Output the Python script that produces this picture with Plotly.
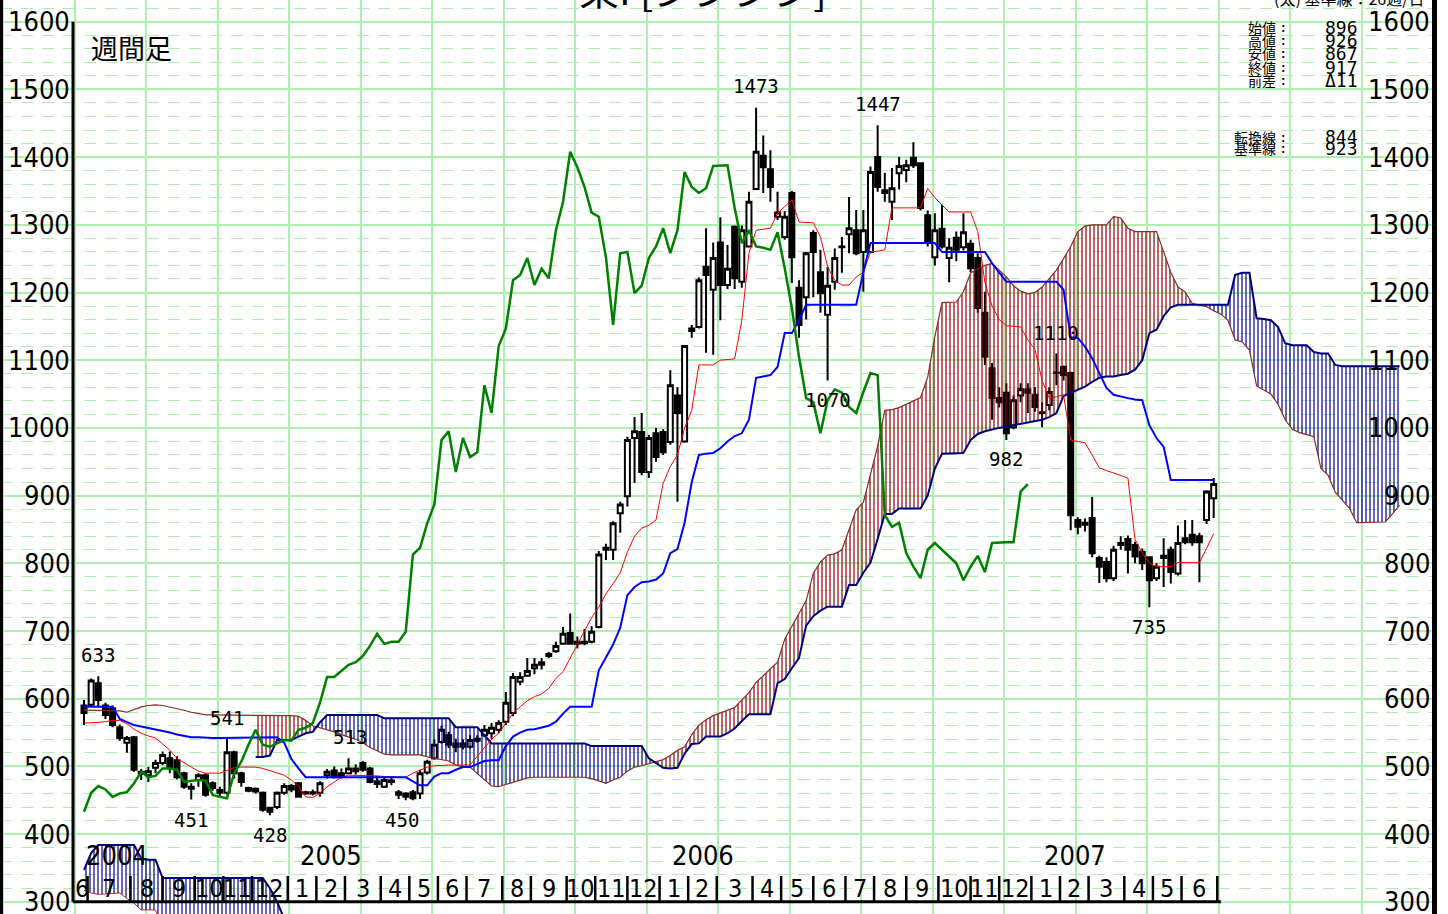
import plotly.graph_objects as go

# ---------------- data ----------------
weeks = list(range(159))
open_ = [590,591,623,590,586,558,535,543,492,487,498,505,512,509,490,470,480,487,475,461,
         461,521,490,468,467,461,439,440,461,471,475,462,460,461,487,494,490,490,493,505,
         497,474,470,477,462,460,462,460,491,512,536,546,534,529,529,541,546,549,554,566,
         579,625,634,645,650,666,670,681,697,681,682,684,706,820,820,874,899,985,994,935,
         992,994,979,1048,980,1143,1149,1238,1204,1274,1211,1297,1216,1268,1353,1402,1382,1312,1282,1347,
         1207,1193,1288,1230,1167,1216,1267,1286,1292,1260,1260,1400,1351,1334,1376,1381,1399,1391,1314,1252,
         1294,1251,1281,1267,1272,1251,1170,1088,1044,1052,1001,1048,1057,1049,1023,1034,1082,1090,1081,864,
         857,867,808,802,778,827,836,827,817,809,778,808,820,785,837,842,840,864,896]
high = [598,630,633,594,590,562,545,545,496,499,510,522,522,515,492,475,490,490,478,470,
        541,523,492,470,469,463,440,463,475,474,477,464,466,478,496,500,497,512,503,508,
        499,486,486,486,465,462,465,495,510,540,560,551,541,540,546,546,561,564,568,610,
        638,639,660,660,660,669,684,706,726,692,703,707,818,829,862,891,987,1016,1022,990,
        1000,998,1085,1060,1122,1152,1222,1295,1274,1311,1270,1299,1299,1349,1473,1432,1410,1349,1320,1350,
        1218,1260,1292,1263,1238,1265,1282,1341,1322,1322,1386,1447,1377,1384,1400,1396,1422,1392,1321,1317,
        1330,1280,1290,1317,1278,1258,1201,1096,1060,1066,1048,1066,1066,1060,1038,1060,1110,1092,1083,868,
        866,898,811,809,826,840,841,832,822,810,800,837,825,856,864,864,845,908,926]
low = [561,588,588,570,558,538,520,492,480,477,490,502,490,481,467,451,470,455,464,455,
       458,482,470,462,460,433,428,437,458,462,455,458,457,455,482,482,482,489,488,492,
       475,468,468,472,452,450,450,452,488,510,534,527,521,525,526,535,543,541,549,561,
       574,620,633,636,643,660,668,680,680,674,679,682,704,805,805,845,884,919,930,926,
       950,960,975,891,978,1133,1147,1111,1108,1159,1205,1205,1207,1268,1353,1347,1334,1307,1278,1214,
       1133,1160,1193,1170,1070,1204,1229,1258,1255,1201,1258,1349,1334,1307,1352,1363,1384,1321,1268,1240,
       1265,1215,1246,1262,1230,1170,1093,1012,1030,982,998,1038,1022,1024,1001,1026,1063,1070,849,843,
       847,809,771,772,774,820,785,800,790,735,774,765,770,782,828,826,772,858,867]
close = [579,627,598,576,561,542,542,495,489,493,505,517,499,484,470,467,487,458,468,465,
         521,490,477,464,463,436,433,461,471,466,455,460,462,475,492,484,486,497,497,495,
         477,478,480,479,458,455,453,490,507,532,554,532,529,534,539,538,554,557,564,594,
         632,632,641,650,654,663,678,696,681,684,684,699,813,823,859,887,982,995,935,985,
         957,964,1063,1022,1121,1147,1218,1226,1251,1211,1235,1221,1292,1334,1408,1385,1356,1318,1312,1252,
         1152,1258,1260,1199,1210,1251,1268,1295,1258,1292,1378,1356,1347,1354,1387,1388,1388,1325,1273,1292,
         1268,1266,1263,1289,1236,1177,1105,1044,1038,992,1041,1057,1052,1031,1022,1053,1081,1078,871,854,
         860,815,795,778,820,830,820,810,800,775,795,811,787,830,831,831,831,906,917]

tenkan = [564,564,565,566,568,568,563,555,549,545,542,533,524,512,505,499,493,490,490,490,
          494,498,499,499,499,497,494,490,487,480,470,455,454,460,470,477,484,487,487,487,
          487,486,485,485,484,484,490,495,499,501,502,502,502,502,502,515,527,540,549,565,
          579,588,597,603,607,615,630,640,660,680,700,720,735,755,770,786,817,840,852,856,
          864,918,943,960,1000,1026,1093,1093,1093,1100,1101,1102,1159,1258,1292,1293,1295,1317,1327,1337,
          1304,1304,1303,1282,1238,1218,1211,1211,1223,1230,1260,1261,1263,1325,1325,1325,1325,1325,1354,1340,
          1329,1319,1319,1319,1319,1290,1215,1180,1160,1151,1150,1149,1130,1116,1070,1044,1046,1049,982,980,
          978,960,941,937,933,929,926,835,815,800,795,795,795,801,801,801,801,822,844]
kijun = [588,588,588,588,588,570,566,561,559,557,555,552,550,547,545,543,543,542,542,542,
         542,542,542,542,542,543,543,543,535,511,497,484,484,484,484,484,484,484,484,484,
         484,484,484,484,484,484,478,472,472,485,490,490,495,499,499,504,508,509,509,530,
         544,550,554,555,557,560,566,578,588,588,588,588,642,660,680,705,753,765,772,773,
         776,785,815,821,860,920,960,962,963,970,980,988,992,1012,1074,1076,1078,1090,1140,1140,
         1159,1182,1182,1182,1182,1182,1182,1182,1182,1230,1273,1273,1273,1273,1273,1273,1273,1273,1273,1273,
         1260,1260,1260,1260,1260,1260,1260,1243,1230,1216,1216,1216,1216,1216,1216,1216,1216,1204,1134,1133,
         1120,1103,1080,1059,1049,1046,1044,1042,1041,1004,985,972,923,923,923,923,923,923,923]

# leading span 1, weeks 0..184
span_a = [583,583,583,583,583,582,580,584,588,590,591,590,588,586,583,580,578,576,576,576,
          576,576,576,576,576,576,576,576,575,575,574,568,560,557,555,551,547,544,540,535,
          528,523,518,517,517,517,517,517,514,512,511,508,502,499,499,490,480,471,470,473,
          477,480,483,484,484,484,484,484,484,484,484,482,478,475,480,484,493,499,501,504,
          507,510,516,524,529,547,561,569,575,579,582,587,598,609,624,634,644,654,688,707,
          725,745,785,802,812,814,820,851,879,890,930,973,1026,1027,1030,1035,1041,1045,1075,1135,
          1185,1186,1186,1201,1229,1235,1240,1243,1233,1223,1210,1202,1198,1200,1208,1220,1233,1250,1268,1290,
          1298,1300,1300,1300,1312,1310,1295,1290,1290,1290,1290,1260,1230,1208,1201,1184,1181,1179,1173,1168,
          1159,1130,1127,1115,1062,1056,1050,1035,1012,998,993,990,987,940,930,905,893,881,860,860,
          860,860,861,873,886]
# leading span 2, weeks 24..184
span_b_start = 24
span_b = [514,514,516,539,539,539,544,549,551,565,576,576,576,576,576,576,576,576,571,571,
          571,571,571,571,571,571,571,571,558,558,558,558,546,534,534,534,534,534,534,534,
          534,534,534,534,534,534,534,530,530,530,530,530,530,530,530,512,505,498,497,498,
          519,533,534,544,544,544,549,556,567,577,577,577,577,623,629,645,660,708,722,730,
          736,736,736,768,768,786,801,836,873,873,881,881,881,881,900,940,962,962,962,963,
          982,991,995,998,1000,1002,1004,1006,1009,1011,1012,1016,1022,1047,1052,1056,1061,1068,1074,1076,
          1076,1078,1080,1086,1100,1140,1145,1165,1178,1182,1182,1182,1182,1182,1182,1182,1182,1226,1229,1229,
          1162,1161,1159,1149,1125,1122,1122,1122,1112,1110,1110,1093,1091,1091,1091,1091,1091,1091,1091,1091,
          1091]
# cloud remnant at the lower left (weeks 0..28)
pre_top = [347,372,384,384,384,384,384,384,364,362,362,335,335,335,335,335,335,335,335,335,
           335,335,335,335,335,335,320,300,275]
pre_bot = [317,313,311,312,313,313,305,298,288,288,288,260,250,250,250,250,250,250,250,250,
           250,250,250,250,250,250,250,250,250]

price_ticks = [1600,1500,1400,1300,1200,1100,1000,900,800,700,600,500,400,300]
month_seps = [0.5,6.5,11,15.5,19.5,23.5,28.5,32.5,36.5,41.5,45.5,49.5,53.5,58.5,62.5,67.5,71.5,76,
              80.5,84.5,88.5,93.5,97.5,102,106.5,110.5,115,119.5,124,128,132.5,136.5,140.5,145.5,
              149.5,153.5,158.5]
month_labels = ["6","7","8","9","10","11","12","1","2","3","4","5","6","7","8","9","10","11","12",
                "1","2","3","4","5","6","7","8","9","10","11","12","1","2","3","4","5","6"]
year_labels = ["2004","2005","2006","2007"]
year_pos = [4.6,34.5,86.6,138.6]
peak_labels = ["633","541","513","451","428","450","1473","1447","1070","982","1110","735"]
peak_x = [2,20,37.2,15,26,44.5,94,111,104,129,136,149]
peak_y = [665,571,543,421,399,421,1505,1478,1041,954,1140,706]
info_labels = ["始値","高値","安値","終値","前差"]
info_values = ["896","926","867","917","Δ11"]
line_labels = ["転換線","基準線"]
line_values = ["844","923"]
title_text = "東I [ジジジジ]"
note_text = "(太) 基準線：26週/日"

# ---------------- geometry (pixel layout of the 1448x914 page) ----------------
W, H = 1448, 914
X0_PX, DX_PX = 84.0, 7.15          # first candle position, px per week
Y_REF_PX, Y_REF_V, PX_PER_UNIT = 21.7, 1600.0, 0.677


def px2x(px):
    return (px - X0_PX) / DX_PX


def py2v(py):
    return Y_REF_V - (py - Y_REF_PX) / PX_PER_UNIT


GRID = "#aeeeae"
RED_H = "#8b0000"
NAVY = "#000080"
NARROW = "Liberation Sans Narrow, DejaVu Sans Condensed, Arial Narrow, sans-serif"
MONO = "DejaVu Sans Mono, monospace"
CJK = "Noto Sans CJK JP, sans-serif"

fig = go.Figure()

# ---------------- cloud (hatched) ----------------
xs_b = list(range(span_b_start, span_b_start + len(span_b)))
a_seg = span_a[span_b_start:]
regions = []
sg = lambda d: 1 if d >= 0 else -1
s0 = sg(a_seg[0] - span_b[0])
regions.append({"s": s0, "x": [xs_b[0]], "a": [a_seg[0]], "b": [span_b[0]]})
for k in range(1, len(xs_b)):
    d1 = a_seg[k] - span_b[k]
    s1 = sg(d1)
    if s1 != s0:
        d0 = a_seg[k - 1] - span_b[k - 1]
        t = d0 / (d0 - d1)
        xc = xs_b[k - 1] + t
        yc = a_seg[k - 1] + t * (a_seg[k] - a_seg[k - 1])
        r = regions[-1]
        r["x"].append(xc); r["a"].append(yc); r["b"].append(yc)
        regions.append({"s": s1, "x": [xc], "a": [yc], "b": [yc]})
        s0 = s1
    r = regions[-1]
    r["x"].append(xs_b[k]); r["a"].append(a_seg[k]); r["b"].append(span_b[k])


def hatch(xp, yp, col):
    fig.add_trace(go.Scatter(
        x=xp, y=yp, mode="lines", fill="toself", line=dict(width=0, color=col),
        fillcolor=col,
        fillpattern=dict(shape="|", size=4, solidity=0.3, fgcolor=col,
                         bgcolor="rgba(0,0,0,0)", fillmode="replace"),
        hoverinfo="skip", showlegend=False))


for r in regions:
    col = RED_H if r["s"] > 0 else NAVY
    hatch(r["x"] + r["x"][::-1], r["a"] + r["b"][::-1], col)

pre_x = list(range(len(pre_top)))
hatch(pre_x + pre_x[::-1], pre_top + pre_bot[::-1], NAVY)

fig.add_trace(go.Scatter(x=pre_x, y=pre_top, mode="lines", line=dict(color=NAVY, width=2),
                         hoverinfo="skip", showlegend=False))
fig.add_trace(go.Scatter(x=pre_x, y=pre_bot, mode="lines", line=dict(color="#a03030", width=1),
                         hoverinfo="skip", showlegend=False))
fig.add_trace(go.Scatter(x=list(range(len(span_a))), y=span_a, mode="lines",
                         line=dict(color="#8b2a2a", width=1.2), hoverinfo="skip", showlegend=False))
fig.add_trace(go.Scatter(x=xs_b, y=span_b, mode="lines", line=dict(color=NAVY, width=2),
                         hoverinfo="skip", showlegend=False))

# ---------------- conversion / base lines ----------------
fig.add_trace(go.Scatter(x=weeks, y=tenkan, mode="lines", line=dict(color="#ff0000", width=1),
                         hoverinfo="skip", showlegend=False))
fig.add_trace(go.Scatter(x=weeks, y=kijun, mode="lines", line=dict(color="#0000ff", width=2),
                         hoverinfo="skip", showlegend=False))

# ---------------- candles ----------------
fig.add_trace(go.Candlestick(
    x=weeks, open=open_, high=high, low=low, close=close,
    increasing=dict(line=dict(color="black", width=2), fillcolor="white"),
    decreasing=dict(line=dict(color="black", width=2), fillcolor="black"),
    whiskerwidth=0, hoverinfo="skip", showlegend=False))

# ---------------- lagging span (close shifted back 26 weeks) ----------------
fig.add_trace(go.Scatter(x=[i - 26 for i in weeks[26:]], y=close[26:], mode="lines",
                         line=dict(color="#008000", width=2.5), hoverinfo="skip", showlegend=False))

# ---------------- frame / axis shapes ----------------
shapes = []
y_lo, y_hi = py2v(H), py2v(0)
x_axis_left = px2x(73)
shapes.append(dict(type="line", xref="x", yref="y", x0=x_axis_left, x1=x_axis_left, y0=300, y1=1600,
                   line=dict(color="black", width=3)))
shapes.append(dict(type="line", xref="x", yref="y", x0=x_axis_left, x1=month_seps[-1] + 0.5, y0=300, y1=300,
                   line=dict(color="black", width=3)))
for s in month_seps:
    shapes.append(dict(type="line", xref="x", yref="y", x0=s, x1=s, y0=300, y1=py2v(876),
                       line=dict(color="black", width=2.5)))
shapes.append(dict(type="rect", xref="paper", yref="paper", x0=1432 / W, x1=1437 / W, y0=0, y1=1,
                   fillcolor="black", line=dict(width=0)))
shapes.append(dict(type="rect", xref="paper", yref="paper", x0=0, x1=3 / W, y0=0, y1=1,
                   fillcolor="black", line=dict(width=0)))
shapes.append(dict(type="rect", xref="paper", yref="paper", x0=1437 / W, x1=1, y0=0, y1=1,
                   fillcolor="white", line=dict(width=0)))


def txt(x, y, s, size, family, xanchor="center", yanchor="middle", xref="paper", yref="paper"):
    fig.add_annotation(x=x, y=y, text=s, showarrow=False, xref=xref, yref=yref,
                       xanchor=xanchor, yanchor=yanchor, borderpad=0,
                       font=dict(size=size, family=family, color="black"))


for v in price_ticks:
    txt(71 / W, v, str(v), 27, NARROW, xanchor="right", yref="y")
    txt(1431 / W, v, str(v), 27, NARROW, xanchor="right", yref="y")

# month labels centred between separators
edges = [px2x(76)] + month_seps
for k, lab in enumerate(month_labels):
    cx = (edges[k] + edges[k + 1]) / 2
    txt(cx, py2v(888), lab, 25, NARROW, xref="x", yref="y")
for lab, xp in zip(year_labels, year_pos):
    txt(xp, py2v(855), lab, 27, NARROW, xref="x", yref="y")

for lab, xp, yp in zip(peak_labels, peak_x, peak_y):
    txt(xp, yp, lab, 19, MONO, xref="x", yref="y")

txt(131 / W, 1 - 48 / H, "週間足", 27, CJK)

info_rows = [27, 40, 53, 67, 80]
for lab, val, ry in zip(info_labels, info_values, info_rows):
    txt(1277 / W, 1 - ry / H, lab, 14, CJK, xanchor="right")
    txt(1283 / W, 1 - ry / H, ":", 14, MONO)
    txt(1359 / W, 1 - ry / H, val, 18, MONO, xanchor="right")
for lab, val, ry in zip(line_labels, line_values, [137, 148]):
    txt(1277 / W, 1 - ry / H, lab, 14, CJK, xanchor="right")
    txt(1283 / W, 1 - ry / H, ":", 14, MONO)
    txt(1359 / W, 1 - ry / H, val, 18, MONO, xanchor="right")

# titles that are mostly cut off by the top edge of the page
txt(703 / W, 1 + 12 / H, title_text, 40, CJK)
txt(1349 / W, 1 + 2 / H, note_text, 16, CJK)

fig.update_layout(
    width=W, height=H, margin=dict(l=0, r=0, t=0, b=0),
    paper_bgcolor="white", plot_bgcolor="white", showlegend=False,
    shapes=shapes, boxgap=0.3, boxgroupgap=0,
    xaxis=dict(range=[px2x(0), px2x(W)], showgrid=True, gridcolor=GRID, gridwidth=1.5,
               tick0=-1.3, dtick=10, showticklabels=False, zeroline=False, showline=False,
               ticks="", rangeslider=dict(visible=False), fixedrange=True),
    yaxis=dict(range=[y_lo, y_hi], showgrid=True, gridcolor=GRID, gridwidth=1.5,
               tick0=0, dtick=100, showticklabels=False, zeroline=False, showline=False, ticks="",
               minor=dict(dtick=20, tick0=0, showgrid=True, gridcolor=GRID, gridwidth=1,
                          griddash="12px,9px"),
               fixedrange=True),
)

fig.write_html("out.html", config={"displayModeBar": False},
               post_script="document.body.style.margin='0px';document.body.style.overflow='hidden';")
